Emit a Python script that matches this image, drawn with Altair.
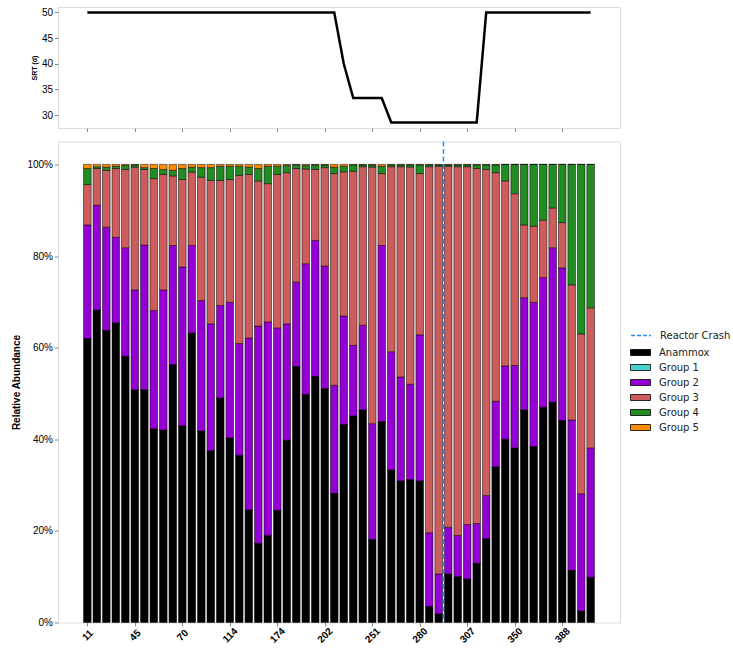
import altair as alt
import pandas as pd

# ---- sample positions and axis labels (every fifth sample is labelled by day) ----
tick_positions = [0, 5, 10, 15, 20, 25, 30, 35, 40, 45, 50]
tick_days = ["11", "45", "70", "114", "174", "202", "251", "280", "307", "350", "388"]

# ---- solids retention time per sample (days) ----
srt = [
    50, 50, 50, 50, 50, 50, 50, 50, 50, 50,
    50, 50, 50, 50, 50, 50, 50, 50, 50, 50,
    50, 50, 50, 50, 50, 50, 50, 40, 33.33, 33.33,
    33.33, 33.33, 28.57, 28.57, 28.57, 28.57, 28.57, 28.57, 28.57, 28.57,
    28.57, 28.57, 50, 50, 50, 50, 50, 50, 50, 50,
    50, 50, 50, 50,
]

# ---- relative abundance per sample (%) ----
anammox = [
    62.0, 68.2, 63.8, 65.4, 58.1, 50.8, 50.8, 42.3, 42.0, 56.3,
    42.9, 63.2, 41.8, 37.5, 49.0, 40.3, 36.5, 24.6, 17.3, 19.0,
    24.5, 39.8, 55.9, 49.8, 53.7, 51.1, 28.2, 43.2, 45.1, 46.4,
    18.1, 43.9, 33.3, 30.9, 31.2, 30.9, 3.5, 1.9, 10.6, 10.0,
    9.5, 12.9, 18.3, 34.0, 40.0, 38.1, 46.4, 38.4, 47.0, 48.1,
    44.1, 11.4, 2.5, 9.9,
]
group1 = [
    0, 0, 0, 0, 0, 0, 0, 0, 0, 0,
    0, 0, 0, 0, 0, 0, 0, 0, 0, 0,
    0, 0, 0, 0, 0, 0, 0, 0, 0, 0,
    0, 0, 0, 0, 0, 0, 0, 0, 0, 0,
    0, 0, 0, 0, 0, 0, 0, 0, 0, 0,
    0, 0, 0, 0,
]
group2 = [
    24.8, 22.9, 22.5, 18.7, 23.7, 21.8, 31.6, 25.8, 30.6, 26.0,
    34.7, 19.1, 28.5, 27.7, 20.2, 29.6, 24.4, 37.5, 47.4, 46.6,
    39.8, 25.4, 18.4, 28.5, 29.7, 26.7, 23.6, 23.7, 15.4, 18.5,
    25.3, 38.4, 25.8, 22.7, 20.8, 31.9, 16.1, 8.7, 10.2, 9.0,
    11.9, 8.7, 9.4, 14.3, 16.0, 18.0, 24.5, 31.5, 28.3, 33.7,
    33.3, 32.8, 25.6, 28.2,
]
group3 = [
    8.8, 8.0, 12.4, 15.0, 17.1, 26.8, 16.5, 28.8, 25.2, 15.2,
    19.1, 16.0, 26.9, 31.3, 27.3, 26.8, 36.7, 35.7, 31.7, 30.2,
    33.5, 33.0, 24.8, 20.7, 15.5, 21.5, 46.2, 31.5, 38.0, 34.6,
    56.0, 15.7, 40.4, 45.9, 47.4, 35.2, 79.9, 89.0, 78.8, 80.5,
    78.1, 77.5, 71.2, 49.9, 40.4, 37.5, 15.9, 16.6, 12.5, 8.7,
    9.9, 29.5, 34.9, 30.6,
]
group4 = [
    3.5, 0.4, 0.7, 0.5, 0.9, 0.5, 0.4, 2.2, 1.1, 1.2,
    2.4, 1.1, 2.1, 2.8, 3.1, 2.9, 2.0, 1.6, 2.7, 3.8,
    1.8, 1.6, 0.8, 0.8, 1.0, 0.6, 1.4, 1.2, 1.4, 0.4,
    0.5, 1.6, 0.4, 0.4, 0.5, 1.9, 0.4, 0.3, 0.3, 0.4,
    0.4, 0.8, 1.0, 1.7, 3.6, 6.4, 13.2, 13.5, 12.2, 9.5,
    12.7, 26.3, 37.0, 31.3,
]
group5 = [
    0.9, 0.5, 0.6, 0.4, 0.2, 0.1, 0.7, 0.9, 1.1, 1.3,
    0.9, 0.6, 0.7, 0.7, 0.4, 0.4, 0.4, 0.6, 0.9, 0.4,
    0.4, 0.2, 0.1, 0.2, 0.1, 0.1, 0.6, 0.4, 0.1, 0.1,
    0.1, 0.4, 0.1, 0.1, 0.1, 0.1, 0.1, 0.1, 0.1, 0.1,
    0.1, 0.1, 0.1, 0.1, 0.0, 0.0, 0.0, 0.0, 0.0, 0.0,
    0.0, 0.0, 0.0, 0.0,
]

# reactor crash falls between the 38th and 39th samples
crash_position = 37.5

groups = ["Anammox", "Group 1", "Group 2", "Group 3", "Group 4", "Group 5"]
colors = ["#000000", "#48D1CC", "#9400D3", "#CD5C5C", "#228B22", "#FF8C00"]
series = [anammox, group1, group2, group3, group4, group5]

# ---- long-format tables ----
n = len(anammox)
rows = []
for rank, (name, vals) in enumerate(zip(groups, series)):
    for i in range(n):
        rows.append({"sample": i, "group": name, "rank": rank, "value": vals[i]})
abund_df = pd.DataFrame(rows)
srt_df = pd.DataFrame({"sample": list(range(n)), "srt": srt})
crash_df = pd.DataFrame({"sample": [crash_position], "event": ["Reactor Crash"]})

FONT = "DejaVu Sans"
x_scale = alt.Scale(domain=[-3.09, 56.09], nice=False, zero=False)
label_expr = "[" + ",".join("'%s'" % d for d in tick_days) + "][round(datum.value / 5)]"

# ---- top panel: SRT ----
top = alt.Chart(srt_df).mark_line(color="black", strokeWidth=2.5).encode(
    x=alt.X(
        "sample:Q", scale=x_scale,
        axis=alt.Axis(values=tick_positions, labels=False, title=None, grid=False,
                      domain=False, ticks=True, tickSize=3.5, tickColor="#888"),
    ),
    y=alt.Y(
        "srt:Q",
        scale=alt.Scale(domain=[27.5, 51.07], nice=False, zero=False),
        axis=alt.Axis(values=[30, 35, 40, 45, 50], title="SRT (d)", titleFontSize=7,
                      titleFontWeight="bold", titlePadding=4, grid=False, domain=False,
                      tickSize=3.5, tickColor="#888", labelPadding=2, labelFontSize=10),
    ),
).properties(width=562, height=121)

# ---- bottom panel: stacked relative abundance ----
bars = alt.Chart(abund_df).transform_stack(
    stack="value", groupby=["sample"], as_=["y0", "y1"], offset="normalize",
    sort=[alt.SortField("rank", order="ascending")],
).transform_calculate(
    lo="datum.sample - 0.4", hi="datum.sample + 0.4"
).mark_bar(stroke="black", strokeWidth=0.5).encode(
    x=alt.X(
        "lo:Q", scale=x_scale,
        axis=alt.Axis(values=tick_positions, labelExpr=label_expr, labelAngle=-45,
                      labelAlign="center", labelBaseline="middle", labelPadding=9,
                      labelFontWeight="bold", labelFontSize=10, title=None, grid=False,
                      domain=False, tickSize=3.5, tickColor="#888"),
    ),
    x2="hi:Q",
    y=alt.Y(
        "y0:Q",
        scale=alt.Scale(domain=[0, 1.05], nice=False, zero=False),
        axis=alt.Axis(values=[0, 0.2, 0.4, 0.6, 0.8, 1.0], format="%",
                      title="Relative Abundance", titleFontSize=10, titleFontWeight="bold",
                      titlePadding=5, grid=False, domain=False, tickSize=3.5,
                      tickColor="#888", labelPadding=2, labelFontSize=10),
    ),
    y2="y1:Q",
    fill=alt.Fill(
        "group:N", scale=alt.Scale(domain=groups, range=colors),
        legend=alt.Legend(
            title=None, orient="none", legendX=572, legendY=338,
            symbolType="M-1,-0.3H1V0.3H-1Z", symbolSize=400,
            symbolStrokeColor="black", symbolStrokeWidth=0.8,
            clipHeight=15, rowPadding=0, labelOffset=8, padding=0,
            labelFontSize=10, labelFont=FONT, labelColor="#222",
        ),
    ),
)

crash = alt.Chart(crash_df).mark_rule(strokeDash=[5, 2.5], strokeWidth=1.5).encode(
    x=alt.X("sample:Q", scale=x_scale),
    stroke=alt.Stroke(
        "event:N", scale=alt.Scale(domain=["Reactor Crash"], range=["#1E90FF"]),
        legend=alt.Legend(
            title=None, orient="none", legendX=572, legendY=321,
            symbolType="M-1,0H1", symbolSize=400, symbolStrokeWidth=1.5,
            symbolDash=[4, 2], clipHeight=15, rowPadding=0, labelOffset=8, padding=0,
            labelFontSize=10, labelFont=FONT, labelColor="#222",
        ),
    ),
)

bottom = alt.layer(bars, crash).properties(width=562, height=481)

chart = alt.vconcat(top, bottom, spacing=6.5).properties(
    padding={"left": 11, "top": 6, "right": 0, "bottom": 0}
).configure_view(
    stroke="#888", strokeWidth=1
).configure_axis(
    labelFont=FONT, titleFont=FONT, labelColor="#222", titleColor="#000"
).configure_legend(
    labelFont=FONT
).configure(background="white")

chart.save("out.html", embed_options={"renderer": "svg", "actions": False})
